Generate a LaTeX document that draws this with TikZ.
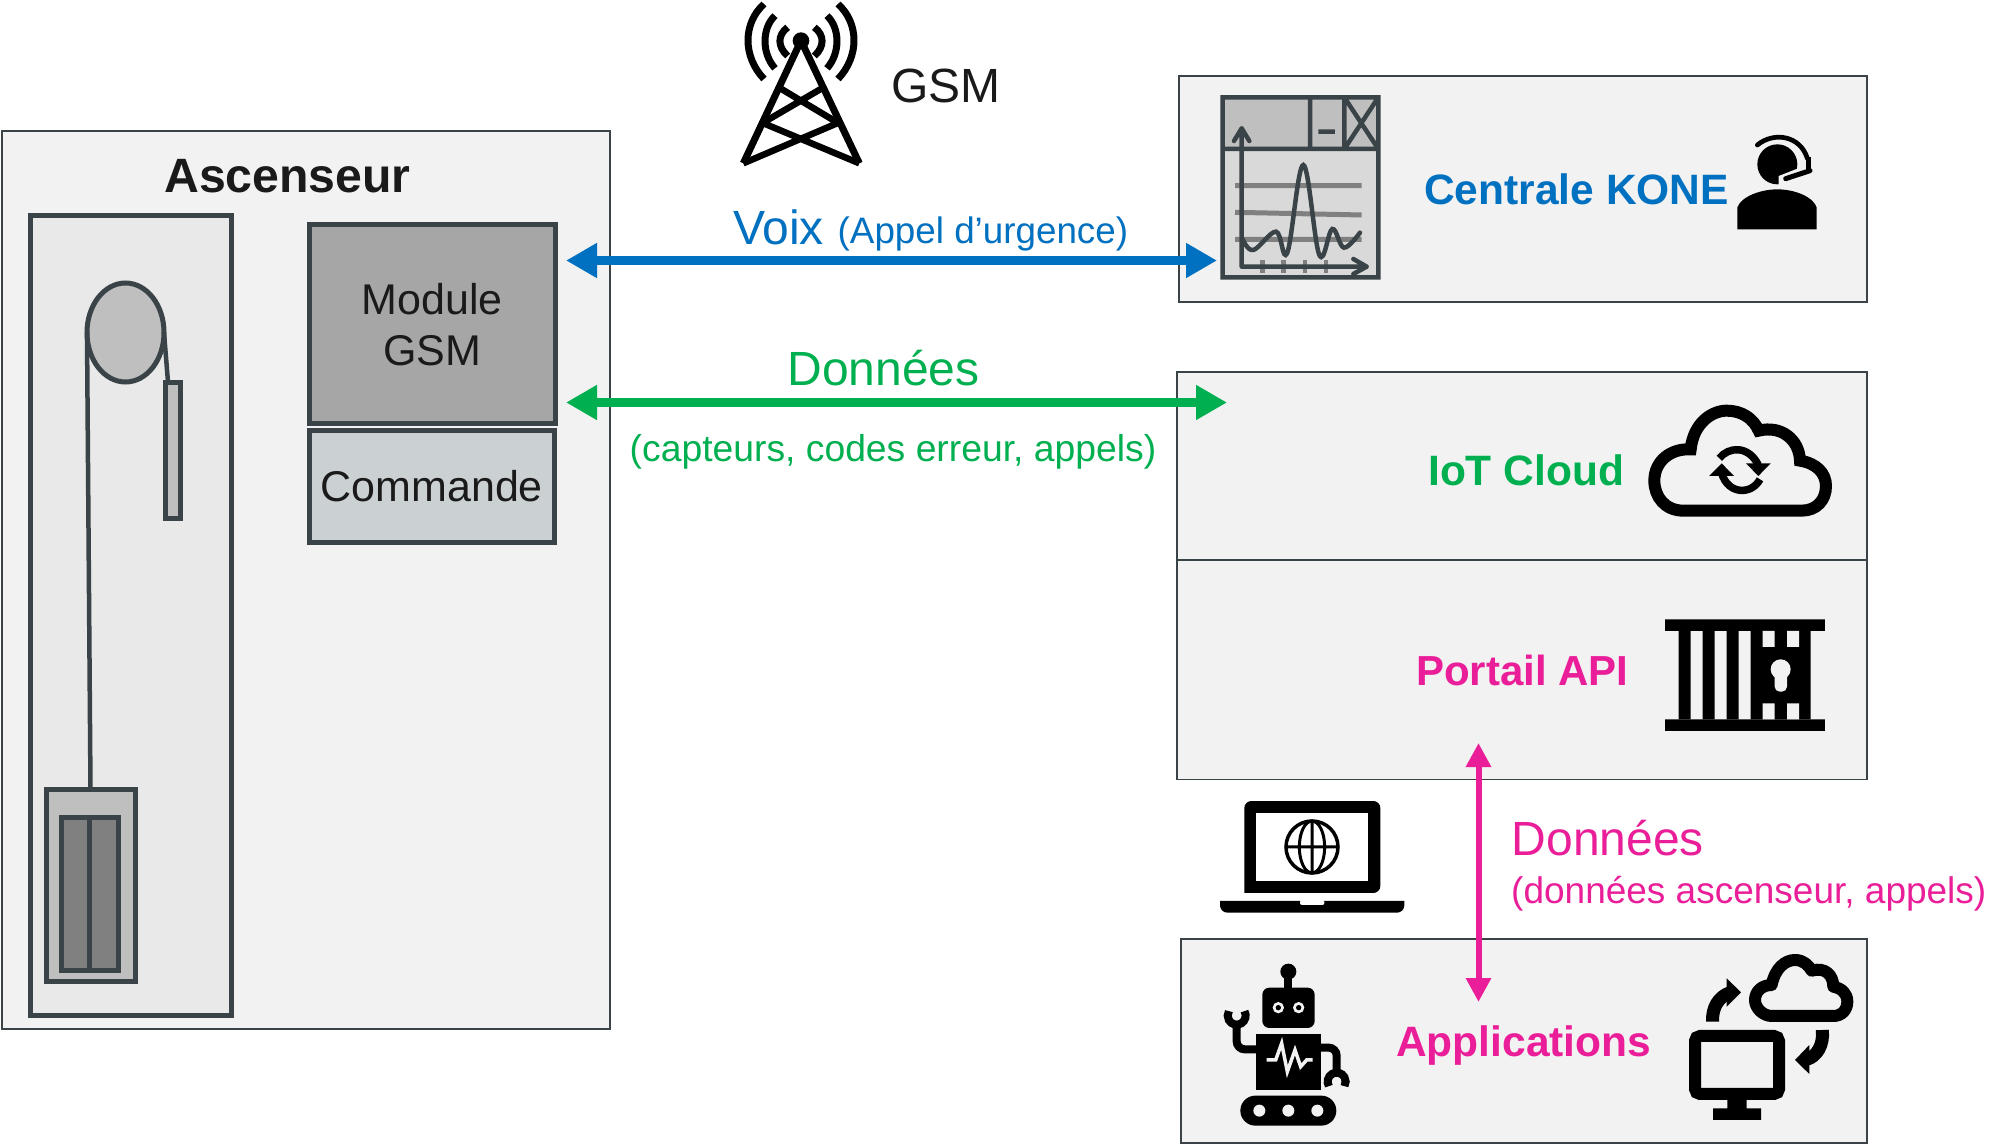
\documentclass[tikz,border=0pt]{standalone}
\usepackage{fontspec}
\setmainfont{Liberation Sans}
\usetikzlibrary{arrows.meta,shapes.geometric}
\definecolor{ink}{HTML}{1A1A1A}
\definecolor{edge}{HTML}{3A4347}
\definecolor{panel}{HTML}{F2F2F2}
\definecolor{kblue}{HTML}{0070C0}
\definecolor{kgreen}{HTML}{00B050}
\definecolor{kpink}{HTML}{E91E98}
\definecolor{cmdfill}{HTML}{CBD0D3}
\newcommand{\fs}[1]{\fontsize{#1}{#1}\selectfont}
\tikzset{
  panelbox/.style={draw=edge,fill=panel,line width=1.8pt,inner sep=0pt,minimum width=#1},
  partbox/.style={draw=edge,line width=5pt,inner sep=0pt,outer sep=0pt},
  txt/.style={inner sep=0pt,anchor=base,text=ink},
  vzoom/.style={x=.3333pt,y=-.3333pt},
  sync/.style={line width=7.5pt,draw=black},
  bigarrow/.style={line width=#1,{Triangle[length=31pt,width=33pt]}-{Triangle[length=31pt,width=33pt]}},
}
\begin{document}
\begin{tikzpicture}[x=1pt,y=-1pt,line cap=butt]
\useasboundingbox (0,0) rectangle (1990,1145);
\fill[white] (0,0) rectangle (1990,1145);

% panels
\node[panelbox=608pt,minimum height=898pt] (asc) at (306,580) {};
\node[panelbox=688pt,minimum height=226pt] (centrale) at (1523,189) {};
\node[panelbox=690pt,minimum height=188pt] (iot) at (1522,466) {};
\node[panelbox=690pt,minimum height=219pt] (portail) at (1522,670) {};
\node[panelbox=686pt,minimum height=204pt] (apps) at (1524,1041) {};

% lift
\node[partbox,fill=black!8.5,minimum width=201pt,minimum height=800pt] (shaft) at (130.5,615) {};
\node[partbox,fill=black!25,ellipse,minimum width=77pt,minimum height=99pt] (pulley) at (125.5,332.5) {};
\node[partbox,fill=black!25,minimum width=15pt,minimum height=136pt] (cw) at (172.5,450) {};
\node[partbox,fill=black!25,minimum width=89pt,minimum height=192pt] (car) at (90.5,885) {};
\node[partbox,fill=black!50,minimum width=57pt,minimum height=153pt] (door) at (89.5,893.5) {};
\draw[edge,line width=5pt] (door.north) -- (door.south);
\draw[edge,line width=4.5pt] (pulley.west) -- (car.north);
\draw[edge,line width=4.5pt] (pulley.east) -- ([xshift=3pt]cw.north west);

\node[txt,font=\fs{48.2}\bfseries] (asctitle) at (287.5,193) {Ascenseur};
\node[partbox,fill=black!35,minimum width=245.5pt,minimum height=199.5pt,align=center,font=\fs{43},text=ink] (gsm) at (432.25,324.2) {Module\\[8pt]GSM};
\node[partbox,fill=cmdfill,minimum width=244.5pt,minimum height=111.5pt,font=\fs{43},text=ink] (cmd) at (431.75,486.3) {Commande};

% arrows
\coordinate (bl) at (566,260.5);
\coordinate (br) at (1217,260.5);
\coordinate (gl) at (566,402.5);
\coordinate (gr) at (1227,402.5);
\coordinate (pt) at (1478.5,743);
\coordinate (pb) at (1478.5,1002);
\draw[kblue,bigarrow=9.5pt] (bl) -- (br);
\draw[kgreen,bigarrow=9.5pt] (gl) -- (gr);
\draw[kpink,line width=6pt,{Triangle[length=24pt,width=24pt]}-{Triangle[length=24pt,width=24pt]}] (pt) -- (pb);

% labels
\node[txt,font=\fs{48}] (gsmlab) at (946,103) {GSM};
\node[txt,anchor=base west,text=kblue,font=\fs{48}] (voix) at (733,244) {Voix};
\node[txt,anchor=base west,text=kblue,font=\fs{36.8}] (appel) at (837.5,243) {(Appel d’urgence)};
\node[txt,text=kgreen,font=\fs{48}] (don1) at (883.5,385) {Données};
\node[txt,text=kgreen,font=\fs{37.3}] (capt) at (893,461.5) {(capteurs, codes erreur, appels)};
\node[txt,anchor=base west,text=kblue,font=\fs{42.5}\bfseries] (ck) at (1424,204.5) {Centrale KONE};
\node[txt,anchor=base west,text=kgreen,font=\fs{42.5}\bfseries] (ic) at (1428,485.5) {IoT Cloud};
\node[txt,anchor=base west,text=kpink,font=\fs{42}\bfseries] (pa) at (1416,685.5) {Portail API};
\node[txt,anchor=base west,text=kpink,font=\fs{42.5}\bfseries] (ap) at (1396,1056) {Applications};
\node[txt,anchor=base west,text=kpink,font=\fs{48}] (don2) at (1511.5,855) {Données};
\node[txt,anchor=base west,text=kpink,font=\fs{37}] (don3) at (1511,903) {(données ascenseur, appels)};

% tower
\begin{scope}[shift={(720,0)},vzoom]
  \draw[black,line width=7pt,line join=round] (70,490) -- (243,122) -- (418,490) (70,490) -- cycle;
  \fill[black] (243,122) circle (25);
  \draw[black,line width=6.5pt] (176,262) -- (356,370) (311,262) -- (126,370) (126,368) -- (418,490) (356,368) -- (70,490);
  \draw[black,line width=7pt]
    (203,82) .. controls (172,105) and (172,140) .. (203,168)
    (283,82) .. controls (314,105) and (314,140) .. (283,168)
    (165,47) .. controls (125,85) and (125,160) .. (165,205)
    (321,47) .. controls (361,85) and (361,160) .. (321,205)
    (132,12) .. controls (68,70) and (68,170) .. (132,237)
    (354,12) .. controls (418,70) and (418,170) .. (354,237);
\end{scope}

% monitoring window
\begin{scope}[shift={(1190,80)},vzoom]
  \fill[black!15] (98,207) rectangle (565,592);
  \fill[black!25] (98,52) rectangle (565,207);
  \draw[black!50,line width=5pt] (135,317) -- (515,317) (135,397) -- (515,405) (135,478) -- (515,478);
  \draw[black!50,line width=4.5pt] (218,540) -- (218,580) (281,540) -- (281,580) (345,540) -- (345,580) (408,540) -- (408,580);
  \draw[edge,line width=4.5pt] (98,52) rectangle (565,592) (98,207) -- (565,207) (360,52) -- (360,207) (463,52) -- (463,207)
    (463,52) -- (565,207) (565,52) -- (463,207) (385,155) -- (435,155);
  \draw[edge,line width=4.5pt,line join=round,line cap=round] (155,560) -- (155,145) (132,183) -- (155,145) -- (178,183)
    (155,560) -- (530,560) (490,537) -- (530,560) -- (490,582);
  \draw[edge,line width=4.5pt,line cap=round] plot[smooth,tension=.62] coordinates {(158,478) (190,510) (258,455) (292,518) (340,255) (388,525) (427,447) (462,503) (510,458)};
\end{scope}

% operator
\begin{scope}[shift={(1700,120)},vzoom]
  \fill[black] (232,133) circle (60);
  \fill[panel] (236,168) -- (300,143) -- (300,198) -- (236,198) -- cycle;
  \fill[black] (112,328) -- (112,262) .. controls (125,228) and (185,208) .. (232,208) .. controls (280,208) and (338,228) .. (350,262) -- (350,328) -- cycle;
  \draw[black,line width=4.7pt,line cap=round] (172,75) .. controls (220,35) and (300,45) .. (322,115);
  \fill[black] (318,112) rectangle (333,155);
  \draw[black,line width=5pt,line cap=round] (330,152) -- (257,176);
\end{scope}

% IoT cloud + gate
\begin{scope}[shift={(1640,390)},vzoom]
  \draw[black,line width=12pt,line join=miter]
    (130,362) .. controls (75,362) and (43,320) .. (43,272)
    .. controls (43,215) and (90,175) .. (152,178)
    .. controls (160,100) and (215,62) .. (260,62)
    .. controls (305,62) and (340,85) .. (356,122)
    .. controls (425,105) and (478,150) .. (480,212)
    .. controls (530,220) and (558,250) .. (558,288)
    .. controls (558,330) and (530,362) .. (485,362) -- cycle;
  \draw[sync] (238,205) .. controls (265,170) and (325,165) .. (355,225);
  \draw[sync] (245,250) .. controls (265,315) and (335,315) .. (360,268);
  \fill[black] (318,220) -- (392,220) -- (355,258) -- cycle;
  \fill[black] (207,258) -- (282,258) -- (245,220) -- cycle;
  % gate
  \fill[black] (75,688) rectangle (555,723) (75,988) rectangle (555,1023);
  \fill[black] (116,723) rectangle (152,988) (188,723) rectangle (224,988) (260,723) rectangle (296,988) (332,723) rectangle (512,988);
  \fill[panel] (368,723) rectangle (404,771) (441,723) rectangle (477,771) (368,940) rectangle (404,988) (441,940) rectangle (477,988);
  \fill[panel] (422,838) circle (30);
  \fill[panel,rounded corners=5pt] (404,840) rectangle (441,905);
\end{scope}

% laptop + robot
\begin{scope}[shift={(1210,780)},vzoom]
  \fill[black,rounded corners=7pt] (103,339) -- (103,63) -- (511,63) -- (511,339) [sharp corners] -- cycle;
  \fill[white] (138,99) rectangle (475,303);
  \draw[black,line width=3.5pt] (306,201) circle (78);
  \draw[black,line width=3pt] (306,201) ellipse (38 and 78) (306,123) -- (306,279) (228,201) -- (384,201);
  \fill[black] (30,363) -- (583,363) -- (583,376) arc (0:90:22) -- (52,398) arc (90:180:22) -- cycle;
  \fill[white,rounded corners=2pt] (270,360) rectangle (343,375);
  % robot
  \fill[black] (235,575) circle (24);
  \fill[black] (223,575) rectangle (247,630);
  \fill[black,rounded corners=7pt] (157,623) rectangle (314,744);
  \fill[panel] (205,683) circle (17) (266,683) circle (17);
  \fill[black] (205,683) circle (8) (266,683) circle (8);
  \fill[black] (139,761) rectangle (332,929);
  \draw[panel,line width=3.5pt,line join=miter] (170,840) -- (197,840) -- (215,790) -- (232,875) -- (255,810) -- (272,860) -- (290,840) -- (308,840);
  \draw[black,line width=8pt,rounded corners=8pt] (139,808) -- (80,808) -- (80,735);
  \draw[black,line width=8pt,rounded corners=8pt] (332,803) -- (380,803) -- (380,875);
  \draw[black,line width=8pt] (103.4,693.5) arc (-30:210:27);
  \draw[black,line width=8pt] (356.6,918.5) arc (150:390:27);
  \fill[black,rounded corners=15pt] (91,947) rectangle (379,1037);
  \fill[panel] (148,992) circle (18) (235,992) circle (18) (322,992) circle (18);
\end{scope}

% cloud/computer
\begin{scope}[shift={(1670,930)},vzoom]
  \draw[black,line width=12pt,line join=round]
    (305,258) .. controls (280,258) and (255,235) .. (255,210)
    .. controls (255,185) and (275,165) .. (305,165)
    .. controls (315,115) and (345,90) .. (375,90)
    .. controls (400,90) and (415,105) .. (425,122)
    .. controls (465,110) and (490,135) .. (490,170)
    .. controls (515,175) and (532,190) .. (532,215)
    .. controls (532,240) and (515,258) .. (490,258) -- cycle;
  \draw[black,line width=12pt,rounded corners=5pt] (75,318) rectangle (327,492);
  \fill[black] (172,505) rectangle (230,540) (129,535) rectangle (273,570);
  \draw[black,line width=13pt] (128,275) .. controls (125,235) and (145,200) .. (180,188);
  \fill[black] (170,145) -- (213,187) -- (170,230) -- cycle;
  \draw[black,line width=13pt] (457,300) .. controls (462,345) and (440,380) .. (410,388);
  \fill[black] (418,345) -- (375,390) -- (418,432) -- cycle;
\end{scope}
\end{tikzpicture}
\end{document}
